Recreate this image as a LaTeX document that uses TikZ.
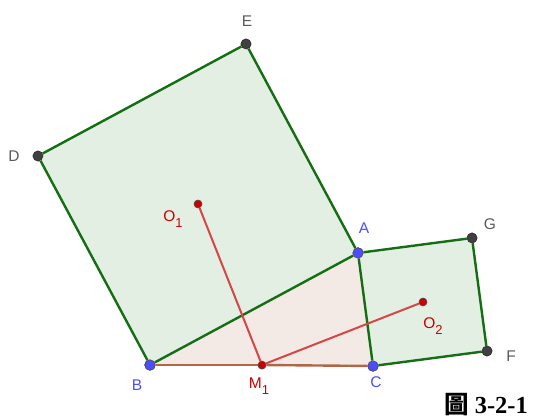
\documentclass[tikz,border=0pt]{standalone}
\usepackage{fontspec}
\setmainfont{Liberation Serif}
\setsansfont{Liberation Sans}
\newfontfamily\cjk{Noto Sans CJK TC}
\usetikzlibrary{positioning}
\definecolor{sqline}{RGB}{20,110,20}
\definecolor{sqfill}{RGB}{228,239,228}
\definecolor{trifill}{RGB}{243,234,229}
\definecolor{triline}{RGB}{178,102,72}
\definecolor{segred}{RGB}{214,70,70}
\definecolor{ptblue}{RGB}{77,77,255}
\definecolor{ptgray}{RGB}{64,64,64}
\definecolor{ptred}{RGB}{204,0,0}
\newcommand{\sub}[1]{\raisebox{-0.35em}{\fontsize{13}{13}\selectfont #1}}
\tikzset{pb/.style={circle,draw=black!70,line width=.6pt,fill=ptblue,inner sep=0pt,minimum size=10.5pt},
 pg/.style={circle,draw=black!80,line width=.6pt,fill=ptgray,inner sep=0pt,minimum size=10pt},
 pr/.style={circle,draw=black!70,line width=.6pt,fill=ptred,inner sep=0pt,minimum size=8pt},
 sq/.style={sqline,line width=2.4pt},tri/.style={triline,line width=2.4pt},
 seg/.style={segred,line width=2pt},
 lg/.style={text=black!65},lb/.style={text=ptblue},lr/.style={text=ptred}}
\begin{document}
\begin{tikzpicture}[x=1pt,y=-1pt,font=\sffamily\fontsize{15.5}{15.5}\selectfont]
\useasboundingbox (0,0) rectangle (533,419);
\node[pg](D) at (38,156){};\node[pg](E) at (246,44){};
\node[pb](A) at (358,253){};\node[pb](B) at (150,365){};\node[pb](C) at (373,366){};
\node[pg](G) at (472,238){};\node[pg](F) at (487,351){};
\node[pr](O1) at (198,204){};\node[pr](O2) at (423,302){};\node[pr](M1) at (262,365){};
% fills
\fill[sqfill](B.center)--(A.center)--(E.center)--(D.center)--cycle;
\fill[sqfill](A.center)--(G.center)--(F.center)--(C.center)--cycle;
\fill[trifill](A.center)--(B.center)--(C.center)--cycle;
% sides
\draw[sq](D)--(E);\draw[sq](E)--(A);\draw[sq](A)--(B);\draw[sq](B)--(D);
\draw[sq](A)--(G);\draw[sq](G)--(F);\draw[sq](F)--(C);\draw[sq](C)--(A);
\draw[tri](B)--(M1);\draw[tri](M1)--(C);
\draw[seg](O1)--(M1);\draw[seg](M1)--(O2);
% points on top
\foreach \p/\s in {D/pg,E/pg,G/pg,F/pg,A/pb,B/pb,C/pb,O1/pr,O2/pr,M1/pr}
  \node[\s] at (\p){};
% labels
\node[lg](lE) at (247,21){E};\node[lg](lD) at (14,156){D};
\node[lg](lG) at (490,224){G};\node[lg](lF) at (511,356){F};
\node[lb](lA) at (364,228){A};\node[lb](lB) at (137,385){B};\node[lb](lC) at (376,382){C};
\node[lr](lO1) at (173,219){O\sub{1}};\node[lr](lO2) at (433,326){O\sub{2}};
\node[lr](lM1) at (259,386){M\sub{1}};
\node[font=\rmfamily\bfseries\fontsize{24.5}{24.5}\selectfont](cap) at (486,405){{\cjk\bfseries 圖} 3-2-1};
\end{tikzpicture}
\end{document}
